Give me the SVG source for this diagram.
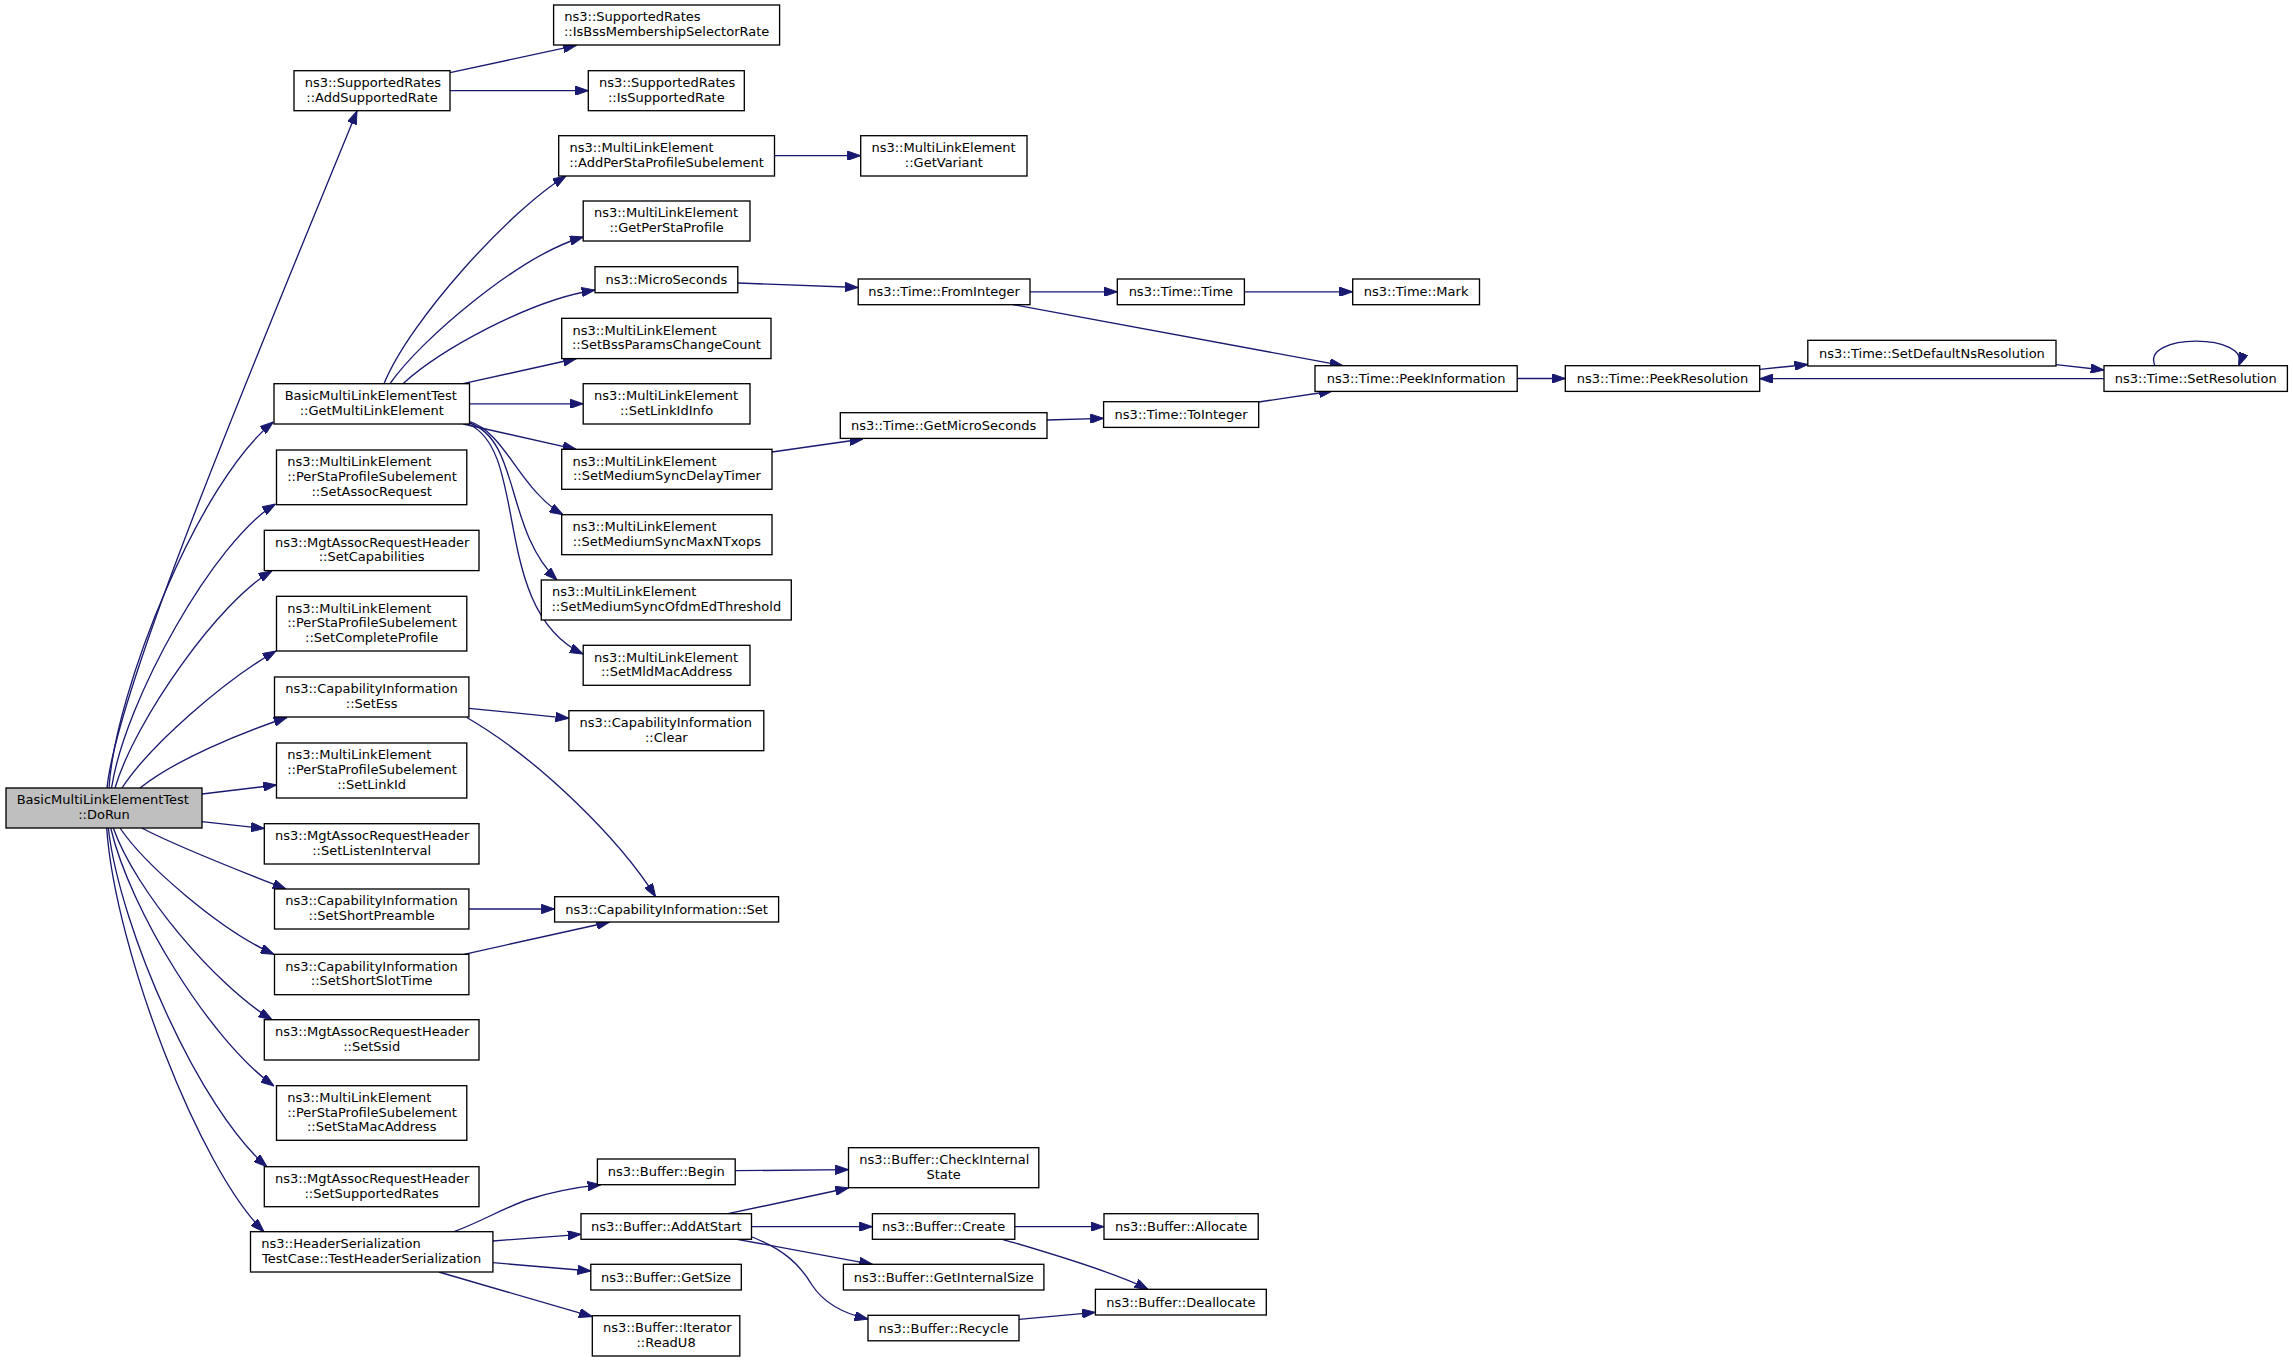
<svg xmlns="http://www.w3.org/2000/svg" width="2293" height="1361" viewBox="0 0 2293 1361">
<style>
.n rect{fill:#fff;stroke:#000;stroke-width:1.33}
.n.root rect{fill:#bfbfbf}
text{font-family:"DejaVu Sans","Liberation Sans",sans-serif;font-size:13px;fill:#000}
.l{text-anchor:start}
.m{text-anchor:middle}
.c path{fill:none;stroke:#191970;stroke-width:1.33;marker-end:url(#a)}
</style>
<defs>
<marker id="a" viewBox="0 0 13.3 9.4" markerWidth="13.3" markerHeight="9.4" refX="13.3" refY="4.7" orient="auto" markerUnits="userSpaceOnUse">
<path d="M0,0 L13.3,4.7 L0,9.4 z" fill="#191970" stroke="#191970" stroke-width="1"/>
</marker>
</defs>
<rect width="2293" height="1361" fill="#fff"/>
<g id="connectors" class="c">
<path d="M107,788 C117,688 254.5,362 357,111"/>
<path d="M109,788 C115,690 200,480 273.3,422"/>
<path d="M111.5,788 C125,700 215,540 275.5,504"/>
<path d="M115,788 C135,720 220,600 272,571"/>
<path d="M122,788 C150,745 225,680 276,651"/>
<path d="M140,788 C175,760 240,733 287,717.5"/>
<path d="M202,794 L276.5,785"/>
<path d="M202,821.7 L264.3,828.5"/>
<path d="M141.7,828 C180,848 245,873 286,889"/>
<path d="M120,828 C145,865 220,930 274,954.3"/>
<path d="M113.3,828 C135,890 215,985 272,1019.7"/>
<path d="M110.7,828 C130,910 210,1040 274,1086"/>
<path d="M108.3,828 C120,930 200,1110 267,1166.7"/>
<path d="M106.7,828 C115,950 200,1170 264,1231.7"/>
<path d="M450,72.7 L576.5,45.3"/>
<path d="M450,90.7 L588.3,90.7"/>
<path d="M384,383.7 C410,320 510,210 566,176"/>
<path d="M390,383.7 C420,340 520,255 583.2,237"/>
<path d="M403,383.7 C440,350 530,300 595,290"/>
<path d="M463,383.7 L576.5,358.5"/>
<path d="M469.5,403.8 L583.2,403.8"/>
<path d="M463.3,424 L576,449.3"/>
<path d="M469.5,421.7 C505,432 520,490 563,514.7"/>
<path d="M469.5,423 C520,440 505,530 557,580"/>
<path d="M468,424 C530,450 490,610 583.2,654"/>
<path d="M774.5,155.7 L860.7,155.7"/>
<path d="M737.8,283 L858.2,287.5"/>
<path d="M1030,291.8 L1117.3,291.8"/>
<path d="M1244.4,291.8 L1352.7,291.8"/>
<path d="M1012.8,304.5 L1343,365.7"/>
<path d="M772,452 L863,439"/>
<path d="M1047,420 L1103.6,418.3"/>
<path d="M1258.7,402 L1332.4,391"/>
<path d="M1517.2,378.5 L1565.3,378.5"/>
<path d="M1759.7,369.3 L1807.8,364.5"/>
<path d="M2056,364.7 L2104,370"/>
<path d="M2104,378.7 L1759.7,378.7"/>
<path d="M2155,365.7 C2140,333 2252,333 2238.6,365.7"/>
<path d="M469,708.3 L568.9,718.3"/>
<path d="M466.8,717.5 C540,760 620,840 655.6,896.7"/>
<path d="M468.9,909 L554.6,909"/>
<path d="M464,954.3 L609.7,922"/>
<path d="M454,1231.7 C485,1220 505,1207 530,1199 C555,1191 580,1187 601,1184.7"/>
<path d="M493,1241 L581,1234.3"/>
<path d="M493,1262.7 L590.8,1271"/>
<path d="M438.8,1272 L592.3,1316.7"/>
<path d="M735.2,1170.7 L848.5,1169.7"/>
<path d="M728,1213.7 L848.5,1188"/>
<path d="M751.5,1226.7 L872.4,1226.7"/>
<path d="M737,1239.3 L872.4,1264.3"/>
<path d="M752,1237 C785,1250 800,1265 812,1285 C825,1305 845,1314 868,1319"/>
<path d="M1014.8,1226.7 L1104,1226.7"/>
<path d="M1002.4,1239.3 C1035,1249 1110,1270 1148,1289.3"/>
<path d="M1019,1319.3 L1095.4,1312.3"/>
</g>
<g id="n1" class="n root"><rect x="6" y="788" width="196" height="40"/><text class="l" x="16.7" y="804.3">BasicMultiLinkElementTest</text><text class="m" x="104" y="819">::DoRun</text></g>
<g id="n2" class="n"><rect x="294" y="70.7" width="156" height="40"/><text class="l" x="304.7" y="87">ns3::SupportedRates</text><text class="m" x="372" y="101.7">::AddSupportedRate</text></g>
<g id="n3" class="n"><rect x="553.6" y="5" width="226" height="40"/><text class="l" x="564.3" y="21.3">ns3::SupportedRates</text><text class="m" x="666.6" y="36">::IsBssMembershipSelectorRate</text></g>
<g id="n4" class="n"><rect x="588.3" y="70.7" width="156" height="40"/><text class="l" x="599" y="87">ns3::SupportedRates</text><text class="m" x="666.3" y="101.7">::IsSupportedRate</text></g>
<g id="n5" class="n"><rect x="274" y="383.7" width="195.5" height="40.3"/><text class="l" x="284.7" y="400">BasicMultiLinkElementTest</text><text class="m" x="371.75" y="414.7">::GetMultiLinkElement</text></g>
<g id="n6" class="n"><rect x="558.7" y="135.7" width="215.8" height="40.3"/><text class="l" x="569.4" y="152">ns3::MultiLinkElement</text><text class="m" x="666.6" y="166.7">::AddPerStaProfileSubelement</text></g>
<g id="n7" class="n"><rect x="583.2" y="201" width="166.8" height="40"/><text class="l" x="593.9" y="217.3">ns3::MultiLinkElement</text><text class="m" x="666.6" y="232">::GetPerStaProfile</text></g>
<g id="n8" class="n"><rect x="595" y="266.7" width="142.8" height="26"/><text class="m" x="666.4" y="284">ns3::MicroSeconds</text></g>
<g id="n9" class="n"><rect x="561.7" y="318.3" width="209.3" height="40.3"/><text class="l" x="572.4" y="334.6">ns3::MultiLinkElement</text><text class="m" x="666.35" y="349.3">::SetBssParamsChangeCount</text></g>
<g id="n10" class="n"><rect x="583.2" y="383.7" width="166.8" height="40.3"/><text class="l" x="593.9" y="400">ns3::MultiLinkElement</text><text class="m" x="666.6" y="414.7">::SetLinkIdInfo</text></g>
<g id="n11" class="n"><rect x="561.7" y="449.3" width="210.3" height="40"/><text class="l" x="572.4" y="465.6">ns3::MultiLinkElement</text><text class="m" x="666.85" y="480.3">::SetMediumSyncDelayTimer</text></g>
<g id="n12" class="n"><rect x="561.7" y="514.7" width="210.3" height="40"/><text class="l" x="572.4" y="531">ns3::MultiLinkElement</text><text class="m" x="666.85" y="545.7">::SetMediumSyncMaxNTxops</text></g>
<g id="n13" class="n"><rect x="541.3" y="580" width="250" height="40"/><text class="l" x="552" y="596.3">ns3::MultiLinkElement</text><text class="m" x="666.3" y="611">::SetMediumSyncOfdmEdThreshold</text></g>
<g id="n14" class="n"><rect x="583.2" y="645.3" width="166.8" height="40"/><text class="l" x="593.9" y="661.6">ns3::MultiLinkElement</text><text class="m" x="666.6" y="676.3">::SetMldMacAddress</text></g>
<g id="n15" class="n"><rect x="860.7" y="135.7" width="166.3" height="40.3"/><text class="l" x="871.4" y="152">ns3::MultiLinkElement</text><text class="m" x="943.85" y="166.7">::GetVariant</text></g>
<g id="n16" class="n"><rect x="858.2" y="279" width="171.8" height="25.7"/><text class="m" x="944.1" y="296.3">ns3::Time::FromInteger</text></g>
<g id="n17" class="n"><rect x="1117.3" y="279" width="127.1" height="25.7"/><text class="m" x="1180.85" y="296.3">ns3::Time::Time</text></g>
<g id="n18" class="n"><rect x="1352.7" y="279" width="126.8" height="25.7"/><text class="m" x="1416.1" y="296.3">ns3::Time::Mark</text></g>
<g id="n19" class="n"><rect x="840.3" y="412.7" width="206.7" height="25.7"/><text class="m" x="943.65" y="430">ns3::Time::GetMicroSeconds</text></g>
<g id="n20" class="n"><rect x="1103.6" y="401.7" width="155.1" height="25.7"/><text class="m" x="1181.15" y="419">ns3::Time::ToInteger</text></g>
<g id="n21" class="n"><rect x="1315" y="365.7" width="202.2" height="25.7"/><text class="m" x="1416.1" y="383">ns3::Time::PeekInformation</text></g>
<g id="n22" class="n"><rect x="1565.3" y="365.7" width="194.4" height="25.7"/><text class="m" x="1662.5" y="383">ns3::Time::PeekResolution</text></g>
<g id="n23" class="n"><rect x="1807.8" y="340.3" width="248.2" height="25.7"/><text class="m" x="1931.9" y="357.6">ns3::Time::SetDefaultNsResolution</text></g>
<g id="n24" class="n"><rect x="2104" y="365.7" width="183.4" height="25.7"/><text class="m" x="2195.7" y="383">ns3::Time::SetResolution</text></g>
<g id="n25" class="n"><rect x="276.5" y="450" width="190.3" height="54.7"/><text class="l" x="287.2" y="466.3">ns3::MultiLinkElement</text><text class="l" x="287.2" y="481">::PerStaProfileSubelement</text><text class="m" x="371.65" y="495.7">::SetAssocRequest</text></g>
<g id="n26" class="n"><rect x="264.3" y="530.3" width="214.7" height="40.3"/><text class="l" x="275" y="546.6">ns3::MgtAssocRequestHeader</text><text class="m" x="371.65" y="561.3">::SetCapabilities</text></g>
<g id="n27" class="n"><rect x="276.5" y="596.3" width="190.3" height="54.7"/><text class="l" x="287.2" y="612.6">ns3::MultiLinkElement</text><text class="l" x="287.2" y="627.3">::PerStaProfileSubelement</text><text class="m" x="371.65" y="642">::SetCompleteProfile</text></g>
<g id="n28" class="n"><rect x="274.5" y="677" width="194.4" height="40"/><text class="l" x="285.2" y="693.3">ns3::CapabilityInformation</text><text class="m" x="371.7" y="708">::SetEss</text></g>
<g id="n29" class="n"><rect x="568.9" y="710.7" width="194.9" height="40"/><text class="l" x="579.6" y="727">ns3::CapabilityInformation</text><text class="m" x="666.35" y="741.7">::Clear</text></g>
<g id="n30" class="n"><rect x="276.5" y="743" width="190.3" height="55"/><text class="l" x="287.2" y="759.3">ns3::MultiLinkElement</text><text class="l" x="287.2" y="774">::PerStaProfileSubelement</text><text class="m" x="371.65" y="788.7">::SetLinkId</text></g>
<g id="n31" class="n"><rect x="264.3" y="823.7" width="214.7" height="40.3"/><text class="l" x="275" y="840">ns3::MgtAssocRequestHeader</text><text class="m" x="371.65" y="854.7">::SetListenInterval</text></g>
<g id="n32" class="n"><rect x="274.5" y="889" width="194.4" height="40"/><text class="l" x="285.2" y="905.3">ns3::CapabilityInformation</text><text class="m" x="371.7" y="920">::SetShortPreamble</text></g>
<g id="n33" class="n"><rect x="554.6" y="896.7" width="224" height="25.3"/><text class="m" x="666.6" y="913.7">ns3::CapabilityInformation::Set</text></g>
<g id="n34" class="n"><rect x="274.5" y="954.3" width="194.4" height="40.4"/><text class="l" x="285.2" y="970.6">ns3::CapabilityInformation</text><text class="m" x="371.7" y="985.3">::SetShortSlotTime</text></g>
<g id="n35" class="n"><rect x="264.3" y="1019.7" width="214.7" height="40.3"/><text class="l" x="275" y="1036">ns3::MgtAssocRequestHeader</text><text class="m" x="371.65" y="1050.7">::SetSsid</text></g>
<g id="n36" class="n"><rect x="276.5" y="1085.7" width="190.3" height="54.6"/><text class="l" x="287.2" y="1102">ns3::MultiLinkElement</text><text class="l" x="287.2" y="1116.7">::PerStaProfileSubelement</text><text class="m" x="371.65" y="1131.4">::SetStaMacAddress</text></g>
<g id="n37" class="n"><rect x="264.3" y="1166.7" width="214.7" height="40"/><text class="l" x="275" y="1183">ns3::MgtAssocRequestHeader</text><text class="m" x="371.65" y="1197.7">::SetSupportedRates</text></g>
<g id="n38" class="n"><rect x="250.5" y="1231.7" width="242.4" height="40.3"/><text class="l" x="261.2" y="1248">ns3::HeaderSerialization</text><text class="m" x="371.7" y="1262.7">TestCase::TestHeaderSerialization</text></g>
<g id="n39" class="n"><rect x="597.4" y="1159" width="137.8" height="25.7"/><text class="m" x="666.3" y="1176.3">ns3::Buffer::Begin</text></g>
<g id="n40" class="n"><rect x="581" y="1213.7" width="170.5" height="25.6"/><text class="m" x="666.25" y="1231">ns3::Buffer::AddAtStart</text></g>
<g id="n41" class="n"><rect x="590.8" y="1264.3" width="150.5" height="25.7"/><text class="m" x="666.05" y="1281.6">ns3::Buffer::GetSize</text></g>
<g id="n42" class="n"><rect x="592.3" y="1315.7" width="147.5" height="40.3"/><text class="l" x="603" y="1332">ns3::Buffer::Iterator</text><text class="m" x="666.05" y="1346.7">::ReadU8</text></g>
<g id="n43" class="n"><rect x="848.5" y="1147.7" width="190.3" height="40"/><text class="l" x="859.2" y="1164">ns3::Buffer::CheckInternal</text><text class="m" x="943.65" y="1178.7">State</text></g>
<g id="n44" class="n"><rect x="872.4" y="1213.7" width="142.4" height="25.6"/><text class="m" x="943.6" y="1231">ns3::Buffer::Create</text></g>
<g id="n45" class="n"><rect x="1104" y="1213.7" width="154.2" height="25.6"/><text class="m" x="1181.1" y="1231">ns3::Buffer::Allocate</text></g>
<g id="n46" class="n"><rect x="843.4" y="1264.3" width="200.5" height="25.7"/><text class="m" x="943.65" y="1281.6">ns3::Buffer::GetInternalSize</text></g>
<g id="n47" class="n"><rect x="1095.4" y="1289.3" width="170.9" height="25.7"/><text class="m" x="1180.85" y="1306.6">ns3::Buffer::Deallocate</text></g>
<g id="n48" class="n"><rect x="868" y="1315.3" width="151" height="25.5"/><text class="m" x="943.5" y="1332.6">ns3::Buffer::Recycle</text></g>
</svg>
